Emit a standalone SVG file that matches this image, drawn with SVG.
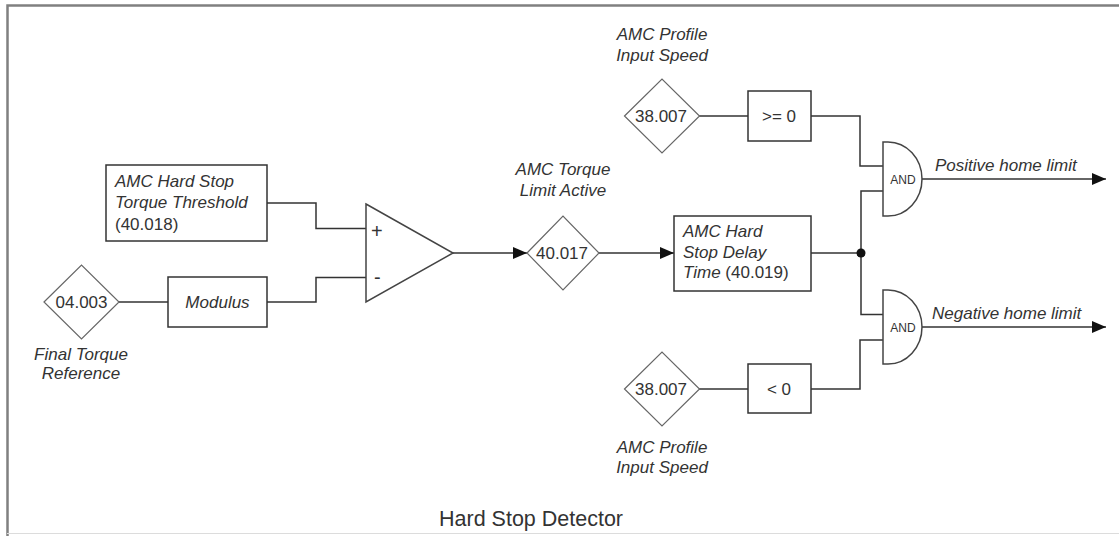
<svg xmlns="http://www.w3.org/2000/svg" width="1119" height="536" viewBox="0 0 1119 536">
<defs>
<style>
text{font-family:"Liberation Sans",Arial,sans-serif;fill:#333;font-size:17px}
.it{font-style:italic}
.c{text-anchor:middle}
.box{fill:#fff;stroke:#333;stroke-width:1.5}
.dia{fill:#fff;stroke:#666;stroke-width:1.2}
.wire{fill:none;stroke:#333;stroke-width:1.5}
.gate{fill:#fff;stroke:#444;stroke-width:1.5}
</style>
<marker id="arr" markerWidth="14" markerHeight="12" refX="14" refY="6" orient="auto" markerUnits="userSpaceOnUse">
<path d="M0,0 L14,6 L0,12 Z" fill="#111"/>
</marker>
</defs>
<rect x="0" y="0" width="1119" height="536" fill="#fff"/>
<g id="frame">
<path d="M7.5,536 V5.5 H1119" fill="none" stroke="#808080" stroke-width="2.5"/>
<line x1="7" y1="533.5" x2="1119" y2="533.5" stroke="#dcdcdc" stroke-width="1"/>
</g>
<g id="connectors">
<path class="wire" d="M267,203 H316 V228.5 H366"/>
<path class="wire" d="M267,302 H316 V277.5 H366"/>
<path class="wire" d="M119,302 H168"/>
<path class="wire" d="M453,253 H527" marker-end="url(#arr)"/>
<path class="wire" d="M599,253 H674" marker-end="url(#arr)"/>
<path class="wire" d="M811,253 H861"/>
<path class="wire" d="M861,253 V191 H883"/>
<path class="wire" d="M861,253 V314.5 H883"/>
<path class="wire" d="M699,116 H748"/>
<path class="wire" d="M811,116 H860 V166 H883"/>
<path class="wire" d="M699,389 H748"/>
<path class="wire" d="M811,389 H860 V340 H883"/>
<path class="wire" d="M922,179 H1106" marker-end="url(#arr)"/>
<path class="wire" d="M922,327 H1106" marker-end="url(#arr)"/>
<circle cx="861" cy="253" r="4.5" fill="#111"/>
</g>
<g id="threshold">
<rect class="box" x="106" y="165" width="161" height="76"/>
<text class="it" x="115" y="187">AMC Hard Stop</text>
<text class="it" x="115" y="208">Torque Threshold</text>
<text x="115" y="230">(40.018)</text>
</g>
<g id="p04003">
<polygon class="dia" points="44,302 81.5,265 119,302 81.5,339"/>
<text class="c" x="81.5" y="308">04.003</text>
<text class="it c" x="81" y="360">Final Torque</text>
<text class="it c" x="81" y="379">Reference</text>
</g>
<g id="modulus">
<rect class="box" x="168" y="277" width="99" height="50"/>
<text class="it c" x="217.5" y="308">Modulus</text>
</g>
<g id="comparator">
<polygon class="gate" points="366,204 453,253 366,302"/>
<text x="371" y="238" style="font-size:20px">+</text>
<text x="374" y="284" style="font-size:20px">-</text>
</g>
<g id="p40017">
<text class="it c" x="563" y="175">AMC Torque</text>
<text class="it c" x="563" y="196">Limit Active</text>
<polygon class="dia" points="527,253 563,216 599,253 563,290"/>
<text class="c" x="562" y="259">40.017</text>
</g>
<g id="delay">
<rect class="box" x="674" y="216" width="137" height="75"/>
<text class="it" x="683" y="237">AMC Hard</text>
<text class="it" x="683" y="258">Stop Delay</text>
<text x="683" y="278"><tspan font-style="italic">Time</tspan> (40.019)</text>
</g>
<g id="p38007a">
<text class="it c" x="662" y="40">AMC Profile</text>
<text class="it c" x="662" y="61">Input Speed</text>
<polygon class="dia" points="624.5,116 662,79 699.5,116 662,153"/>
<text class="c" x="661" y="122">38.007</text>
</g>
<g id="ge0">
<rect class="box" x="748" y="91" width="63" height="50"/>
<text class="c" x="779" y="122">&gt;= 0</text>
</g>
<g id="p38007b">
<polygon class="dia" points="624.5,389 662,352 699.5,389 662,426"/>
<text class="c" x="661" y="395">38.007</text>
<text class="it c" x="662" y="453">AMC Profile</text>
<text class="it c" x="662" y="473">Input Speed</text>
</g>
<g id="lt0">
<rect class="box" x="748" y="364" width="63" height="49"/>
<text class="c" x="779" y="395">&lt; 0</text>
</g>
<g id="and1">
<path class="gate" d="M883,142 H888 A34,37 0 0 1 888,216 H883 Z"/>
<text class="c" x="903" y="184" style="font-size:12px">AND</text>
<text class="it" x="935" y="171">Positive home limit</text>
</g>
<g id="and2">
<path class="gate" d="M883,290 H888 A34,37 0 0 1 888,364 H883 Z"/>
<text class="c" x="903" y="332" style="font-size:12px">AND</text>
<text class="it" x="932" y="319">Negative home limit</text>
</g>
<g id="title">
<text x="439" y="526" style="font-size:21.5px">Hard Stop Detector</text>
</g>
</svg>
